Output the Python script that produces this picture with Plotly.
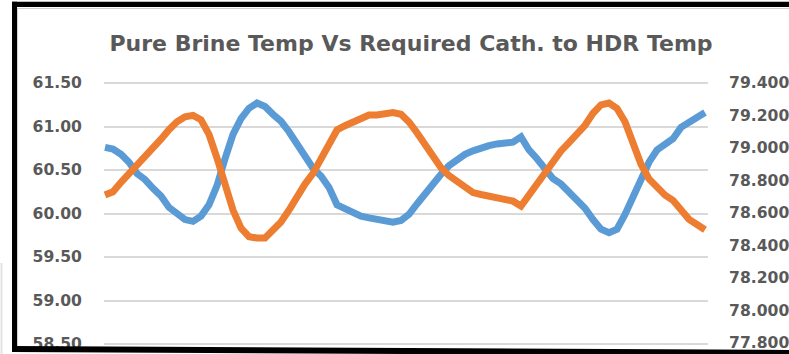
import plotly.graph_objects as go

# Sample index along the time axis
sample = list(range(76))

# Pure brine temperature (left axis)
brine_temp = [
    60.76, 60.74, 60.68, 60.59, 60.46, 60.39, 60.29, 60.20, 60.07, 59.99,
    59.93, 59.91, 59.97, 60.10, 60.32, 60.63, 60.91, 61.09, 61.21, 61.27,
    61.23, 61.14, 61.06, 60.94, 60.79, 60.64, 60.52, 60.43, 60.30, 60.10,
    60.05, 60.01, 59.97, 59.95, 59.93, 59.91, 59.90, 59.92, 59.99, 60.11,
    60.23, 60.35, 60.45, 60.55, 60.62, 60.68, 60.72, 60.76, 60.78, 60.80,
    60.81, 60.82, 60.88, 60.73, 60.63, 60.50, 60.40, 60.34, 60.25, 60.14,
    60.06, 59.93, 59.82, 59.78, 59.82, 59.99, 60.18, 60.40, 60.59, 60.73,
    60.79, 60.86, 60.99, 61.05, 61.11, 61.16,
]

# Required cathode-to-HDR temperature (right axis)
hdr_temp = [
    78.711, 78.731, 78.789, 78.840, 78.889, 78.938, 78.988, 79.054, 79.113, 79.161,
    79.192, 79.201, 79.174, 79.084, 78.938, 78.783, 78.618, 78.507, 78.454, 78.446,
    78.446, 78.495, 78.545, 78.618, 78.701, 78.778, 78.844, 78.926, 79.015, 79.111,
    79.137, 79.161, 79.185, 79.203, 79.203, 79.206, 79.218, 79.208, 79.160, 79.094,
    79.018, 78.943, 78.879, 78.830, 78.795, 78.757, 78.726, 78.714, 78.703, 78.694,
    78.683, 78.673, 78.643, 78.714, 78.772, 78.846, 78.922, 78.982, 79.033, 79.084,
    79.140, 79.214, 79.265, 79.277, 79.244, 79.162, 79.039, 78.900, 78.810, 78.752,
    78.710, 78.678, 78.614, 78.561, 78.529, 78.497,
]

left_ticks = [58.5, 59.0, 59.5, 60.0, 60.5, 61.0, 61.5]
left_labels = ["58.50", "59.00", "59.50", "60.00", "60.50", "61.00", "61.50"]
right_ticks = [77.8, 78.0, 78.2, 78.4, 78.6, 78.8, 79.0, 79.2, 79.4]
right_labels = ["77.800", "78.000", "78.200", "78.400", "78.600",
                "78.800", "79.000", "79.200", "79.400"]

title_text = "Pure Brine Temp Vs Required Cath. to HDR Temp"

W, H = 789, 354
L, R, T, B = 104, 81, 80, 0
PW, PH = W - L - R, H - T - B


def fx(px):
    return (px - L) / PW


def fy(py):
    return (H - B - py) / PH


BLUE = "#5B9BD5"
ORANGE = "#ED7D31"
TEXT = "#595959"
GRID = "#D9D9D9"
FONT = "DejaVu Sans"

fig = go.Figure()
fig.add_trace(go.Scatter(x=sample, y=brine_temp, mode="lines",
                         line=dict(color=BLUE, width=7), yaxis="y",
                         name="Pure Brine Temp"))
fig.add_trace(go.Scatter(x=sample, y=hdr_temp, mode="lines",
                         line=dict(color=ORANGE, width=7), yaxis="y2",
                         name="Required Cath. to HDR Temp"))

tickfont = dict(family=FONT, size=15.6, color=TEXT, weight="bold")

fig.update_layout(
    width=W, height=H,
    margin=dict(l=L, r=R, t=T, b=B, pad=0),
    paper_bgcolor="white", plot_bgcolor="white",
    showlegend=False,
    title=dict(text=title_text, x=fx(411), xref="paper", xanchor="center",
               y=1 - 43 / H, yref="container", yanchor="middle",
               font=dict(family=FONT, size=22, color=TEXT, weight="bold")),
    xaxis=dict(range=[-0.125, 75.375], showgrid=False, showticklabels=False,
               zeroline=False, showline=False, ticks=""),
    yaxis=dict(range=[61.5 + 3 / 87 - PH / 87, 61.5 + 3 / 87],
               tickvals=left_ticks, ticktext=left_labels, tickfont=tickfont,
               showgrid=True, gridcolor=GRID, gridwidth=2, zeroline=False,
               showline=False, ticks="outside", ticklen=18,
               tickcolor="rgba(0,0,0,0)"),
    yaxis2=dict(range=[79.4 + 3 / 162.5 - PH / 162.5, 79.4 + 3 / 162.5],
                overlaying="y", side="right",
                tickvals=right_ticks, ticktext=right_labels, tickfont=tickfont,
                showgrid=False, zeroline=False, showline=False,
                ticks="outside", ticklen=17, tickcolor="rgba(0,0,0,0)"),
)

# Frame around the chart area
shapes = [
    # light inner chart border
    dict(type="line", xref="paper", yref="paper", x0=fx(17.5), x1=fx(800),
         y0=fy(8.5), y1=fy(8.5), line=dict(color="#D0D0D0", width=1)),
    dict(type="line", xref="paper", yref="paper", x0=fx(17.5), x1=fx(17.5),
         y0=fy(8.5), y1=fy(350), line=dict(color="#D0D0D0", width=1)),
    # heavy black outline
    dict(type="rect", xref="paper", yref="paper", x0=fx(12), x1=fx(800),
         y0=fy(7), y1=fy(1.7), fillcolor="black", line=dict(width=0),
         layer="above"),
    dict(type="rect", xref="paper", yref="paper", x0=fx(12), x1=fx(17),
         y0=fy(352), y1=fy(1.7), fillcolor="black", line=dict(width=0),
         layer="above"),
    dict(type="path", xref="paper", yref="paper",
         path=f"M {fx(12)} {fy(346)} L {fx(800)} {fy(350)} L {fx(800)} {fy(356)} "
              f"L {fx(12)} {fy(352)} Z",
         fillcolor="black", line=dict(width=0), layer="above"),
    # faint edge line at far left
    dict(type="line", xref="paper", yref="paper", x0=fx(1.5), x1=fx(1.5),
         y0=fy(263), y1=fy(356), line=dict(color="#E2E2E2", width=2)),
]
fig.update_layout(shapes=shapes)

fig.write_html("out.html")
